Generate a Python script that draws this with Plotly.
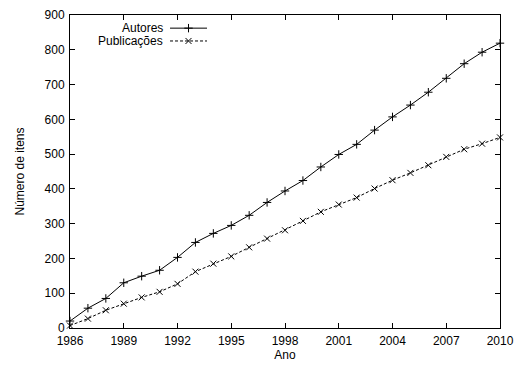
import plotly.graph_objects as go

anos = list(range(1986, 2011))
autores = [20, 57, 85, 130, 149, 166, 203, 246, 272, 295, 324, 361, 394, 424, 463, 499,
           528, 569, 607, 641, 678, 718, 760, 793, 819]
publicacoes = [7, 27, 51, 70, 88, 104, 127, 162, 185, 206, 232, 257, 281, 308, 334, 355,
               375, 401, 425, 446, 468, 492, 514, 530, 548]
nomes = ["Autores", "Publicações"]
x_ticks = list(range(1986, 2011, 3))
y_ticks = list(range(0, 901, 100))

FONT = "Liberation Sans, Arial, sans-serif"
MS = 6

fig = go.Figure()
fig.add_trace(go.Scatter(x=anos, y=autores, mode="lines+markers", name=nomes[0],
                         line=dict(color="black", width=1),
                         marker=dict(symbol="cross-thin", size=MS,
                                     line=dict(color="black", width=1)),
                         showlegend=False, cliponaxis=False))
fig.add_trace(go.Scatter(x=anos, y=publicacoes, mode="lines+markers", name=nomes[1],
                         line=dict(color="black", width=1, dash="3px,2px"),
                         marker=dict(symbol="x-thin", size=MS,
                                     line=dict(color="black", width=1)),
                         showlegend=False, cliponaxis=False))

# gnuplot-style legend keys (sample to the right of the text) on an overlay axis
leg_y = [0.958, 0.917]
fig.add_trace(go.Scatter(x=[0.2326, 0.3186], y=[leg_y[0]] * 2, mode="lines",
                         line=dict(color="black", width=1), xaxis="x2", yaxis="y2",
                         showlegend=False, hoverinfo="skip"))
fig.add_trace(go.Scatter(x=[0.2756], y=[leg_y[0]], mode="markers",
                         marker=dict(symbol="cross-thin", size=MS, line=dict(color="black", width=1)),
                         xaxis="x2", yaxis="y2", showlegend=False, hoverinfo="skip"))
fig.add_trace(go.Scatter(x=[0.2326, 0.3186], y=[leg_y[1]] * 2, mode="lines",
                         line=dict(color="black", width=1, dash="3px,2px"), xaxis="x2", yaxis="y2",
                         showlegend=False, hoverinfo="skip"))
fig.add_trace(go.Scatter(x=[0.2756], y=[leg_y[1]], mode="markers",
                         marker=dict(symbol="x-thin", size=MS, line=dict(color="black", width=1)),
                         xaxis="x2", yaxis="y2", showlegend=False, hoverinfo="skip"))
for nome, yy in zip(nomes, leg_y):
    fig.add_annotation(text=nome, x=0.218, y=yy, xref="x2", yref="y2", xanchor="right",
                       yanchor="middle", showarrow=False, borderpad=0,
                       font=dict(family=FONT, size=12, color="black"))

axis_common = dict(showgrid=False, zeroline=False, showline=True, linecolor="black",
                   linewidth=1, mirror="ticks", ticks="inside", ticklen=5, tickcolor="black",
                   tickfont=dict(family=FONT, size=12, color="black"))

fig.update_layout(
    width=517, height=369,
    margin=dict(l=70, r=17, t=15, b=41, autoexpand=False),
    plot_bgcolor="white", paper_bgcolor="white",
    xaxis=dict(range=[1986, 2010], tickvals=x_ticks, ticktext=[str(v) for v in x_ticks],
               ticklabelstandoff=2,
               title=dict(text="Ano", font=dict(family=FONT, size=12, color="black"), standoff=3),
               **axis_common),
    yaxis=dict(range=[0, 900], tickvals=y_ticks, ticktext=[str(v) for v in y_ticks],
               ticklabelstandoff=2,
               title=dict(text="Número de itens", font=dict(family=FONT, size=12, color="black"),
                          standoff=17),
               **axis_common),
    xaxis2=dict(range=[0, 1], overlaying="x", visible=False, fixedrange=True),
    yaxis2=dict(range=[0, 1], overlaying="y", visible=False, fixedrange=True),
    showlegend=False,
)

fig.write_html("out.html", config={"displayModeBar": False},
               post_script="document.body.style.margin='0';document.body.style.overflow='hidden';")
